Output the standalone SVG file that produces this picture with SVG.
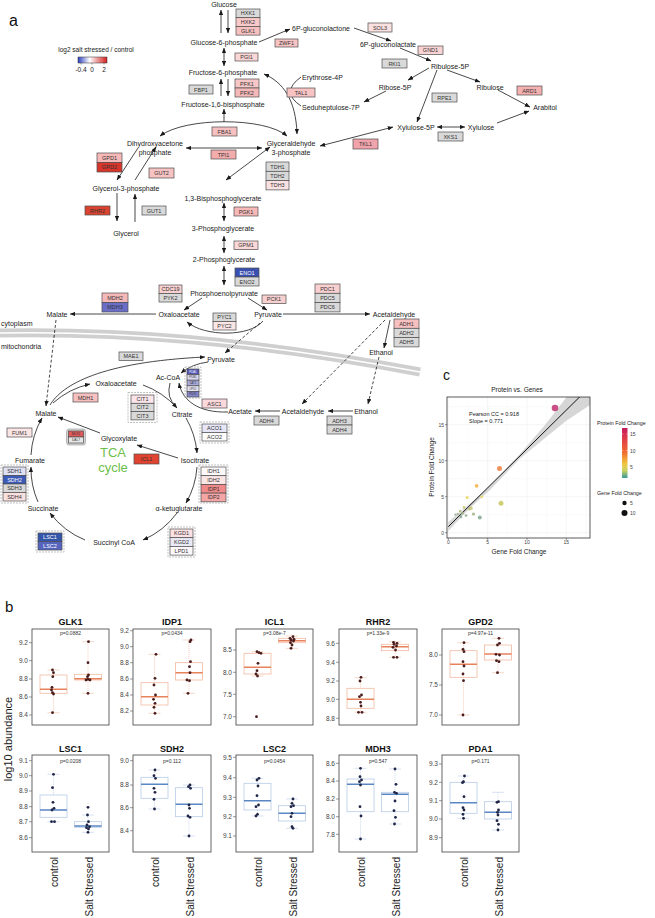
<svg xmlns="http://www.w3.org/2000/svg" width="655" height="918" viewBox="0 0 655 918">
<defs>
<style>
text{font-family:"Liberation Sans",Arial,Helvetica,sans-serif}
.m{font-size:7px;fill:#1a1a1a;text-anchor:middle}
.ms{font-size:7px;fill:#1a1a1a;text-anchor:start}
.gb rect{stroke:#4d4d4d;stroke-width:0.7}
.gb text{font-size:5.5px;fill:#333;text-anchor:middle}
.gb text.w{fill:#fff}
.gb text.xs{font-size:2.8px}
.gb text.x3{font-size:3.2px}
.grp{fill:none;stroke:#a6a6a6;stroke-width:0.9;stroke-dasharray:2 1}
.ln{fill:none;stroke:#1a1a1a;stroke-width:0.8}
.ds{stroke-dasharray:3 2}
.gy{fill:#d9d9d9}
.pt{font-size:9px;font-weight:bold;fill:#111;text-anchor:middle}
.pv{font-size:5px;fill:#333;text-anchor:middle}
.tk{font-size:6.5px;fill:#444;text-anchor:end}
.tl{stroke:#555;stroke-width:0.6}
.fr{fill:none;stroke:#555;stroke-width:0.9}
.xl{font-size:10px;fill:#222;text-anchor:end}
.b1 .bx{fill:none;stroke:#f2b9a0;stroke-width:0.8}
.b1 .md{stroke:#e8825a;stroke-width:1.4}
.b1 .wk{stroke:#f2b9a0;stroke-width:0.7;stroke-dasharray:1 1}
.b1 .cp{stroke:#f2c8b5;stroke-width:0.7}
.b1 circle{fill:#4a1c1c;r:1.4px}
.b2 .bx{fill:none;stroke:#b7cbe6;stroke-width:0.8}
.b2 .md{stroke:#5b86c4;stroke-width:1.4}
.b2 .wk{stroke:#b7cbe6;stroke-width:0.7;stroke-dasharray:1 1}
.b2 .cp{stroke:#c8d6ec;stroke-width:0.7}
.b2 circle{fill:#1e2547;r:1.4px}
.ct{font-size:5px;fill:#444}
.cg{stroke:#ececec;stroke-width:0.5}
.cg2{stroke:#f5f5f5;stroke-width:0.4}
</style>
<marker id="ah" viewBox="0 0 10 8" refX="9.5" refY="4" markerWidth="5.5" markerHeight="4.4" orient="auto-start-reverse" markerUnits="userSpaceOnUse"><path d="M0,0 L10,4 L0,8 z" fill="#1a1a1a"/></marker>
<linearGradient id="lg" x1="0" y1="0" x2="1" y2="0"><stop offset="0" stop-color="#2b3fbf"/><stop offset="0.4" stop-color="#ffffff"/><stop offset="1" stop-color="#d42020"/></linearGradient>
<linearGradient id="cb" x1="0" y1="0" x2="0" y2="1"><stop offset="0" stop-color="#c21b5e"/><stop offset="0.14" stop-color="#d93050"/><stop offset="0.48" stop-color="#f26a30"/><stop offset="0.72" stop-color="#f0c840"/><stop offset="0.85" stop-color="#c8d060"/><stop offset="1" stop-color="#3a9a9a"/></linearGradient>
<clipPath id="pc"><rect x="447" y="397" width="143" height="141"/></clipPath>
</defs>
<rect width="655" height="918" fill="#fff"/>

<text x="9" y="26" font-size="16" fill="#111">a</text>
<g id="legend">
<text x="96" y="52" font-size="6.5" fill="#222" text-anchor="middle">log2 salt stressed / control</text>
<rect x="78" y="57" width="29" height="6" fill="url(#lg)" stroke="#333" stroke-width="0.5"/>
<path d="M81,63v1.5M92,63v1.5M104,63v1.5" stroke="#333" stroke-width="0.5"/>
<text x="81" y="72" font-size="6.5" fill="#222" text-anchor="middle">-0.4</text>
<text x="92" y="72" font-size="6.5" fill="#222" text-anchor="middle">0</text>
<text x="104" y="72" font-size="6.5" fill="#222" text-anchor="middle">2</text>
</g>

<g id="membrane">
<path d="M0,333 C120,331 250,340 420,372" fill="none" stroke="#cfcfcf" stroke-width="9"/>
<path d="M0,333 C120,331 250,340 420,372" fill="none" stroke="#fff" stroke-width="1.5"/>
<text x="1" y="325.5" class="ms">cytoplasm</text>
<text x="1" y="349" class="ms">mitochondria</text>
</g>

<g id="connectors">
<path class="ln" d="M221,33V10" marker-end="url(#ah)"/>
<path class="ln" d="M228,10V33" marker-end="url(#ah)"/>
<path class="ln" d="M259,42L290,29" marker-end="url(#ah)"/>
<path class="ln" d="M224,48V66" marker-start="url(#ah)" marker-end="url(#ah)"/>
<path class="ln" d="M221,96V79" marker-end="url(#ah)"/>
<path class="ln" d="M228,79V96" marker-end="url(#ah)"/>
<path class="ln" d="M224,122V109" marker-end="url(#ah)"/>
<path class="ln" d="M160,136 C185,117 265,117 287,136" marker-start="url(#ah)" marker-end="url(#ah)"/>
<path class="ln" d="M264,74 C283,82 296,100 297,134" marker-start="url(#ah)" marker-end="url(#ah)"/>
<path class="ln" d="M301,77 Q280,92 301,106"/>
<path class="ln" d="M354,28L391,41" marker-end="url(#ah)"/>
<path class="ln" d="M400,48L431,61" marker-end="url(#ah)"/>
<path class="ln" d="M429,68L408,80" marker-end="url(#ah)"/>
<path class="ln" d="M386,91L364,102" marker-end="url(#ah)"/>
<path class="ln" d="M437,70L417,122" marker-end="url(#ah)"/>
<path class="ln" d="M447,70L480,82" marker-end="url(#ah)"/>
<path class="ln" d="M498,90L530,107" marker-end="url(#ah)"/>
<path class="ln" d="M497,123L529,111" marker-end="url(#ah)"/>
<path class="ln" d="M437,127H465" marker-start="url(#ah)" marker-end="url(#ah)"/>
<path class="ln" d="M393,127L320,146" marker-start="url(#ah)" marker-end="url(#ah)"/>
<path class="ln" d="M186,148H262" marker-start="url(#ah)" marker-end="url(#ah)"/>
<path class="ln" d="M270,147L226,180" marker-start="url(#ah)" marker-end="url(#ah)"/>
<path class="ln" d="M138,148L117,180" marker-end="url(#ah)"/>
<path class="ln" d="M135,180L156,147" marker-end="url(#ah)"/>
<path class="ln" d="M117,193V221" marker-end="url(#ah)"/>
<path class="ln" d="M135,222V194" marker-end="url(#ah)"/>
<path class="ln" d="M224,203V221" marker-start="url(#ah)" marker-end="url(#ah)"/>
<path class="ln" d="M224,236V253" marker-start="url(#ah)" marker-end="url(#ah)"/>
<path class="ln" d="M224,266V285" marker-start="url(#ah)" marker-end="url(#ah)"/>
<path class="ln" d="M202,298L184,310" marker-end="url(#ah)"/>
<path class="ln" d="M248,298L267,310" marker-end="url(#ah)"/>
<path class="ln" d="M263,321 C250,337 205,337 187,322" marker-end="url(#ah)"/>
<path class="ln" d="M156,314H70" marker-end="url(#ah)"/>
<path class="ln" d="M283,314H370" marker-end="url(#ah)"/>
<path class="ln" d="M390,320L384,348" marker-end="url(#ah)"/>
<path class="ln ds" d="M260,323L225,353" marker-end="url(#ah)"/>
<path class="ln ds" d="M56,320L46,406" marker-end="url(#ah)"/>
<path class="ln ds" d="M385,320L302,404" marker-end="url(#ah)"/>
<path class="ln ds" d="M379,357L368,404" marker-end="url(#ah)"/>
<path class="ln" d="M50,405 C62,385 100,362 205,357" marker-end="url(#ah)"/>
<path class="ln" d="M208,362 Q192,364 181,373" marker-end="url(#ah)"/>
<path class="ln" d="M53,403 A83,83 0 0 1 90,384" marker-end="url(#ah)"/>
<path class="ln" d="M143,385 A83,83 0 0 1 177,408" marker-end="url(#ah)"/>
<path class="ln" d="M186,418 A83,83 0 0 1 197,453" marker-end="url(#ah)"/>
<path class="ln" d="M197,467 A83,83 0 0 1 186,503" marker-end="url(#ah)"/>
<path class="ln" d="M177,513 A83,83 0 0 1 143,540" marker-end="url(#ah)"/>
<path class="ln" d="M85,540 A83,83 0 0 1 50,513" marker-end="url(#ah)"/>
<path class="ln" d="M38,502 A83,83 0 0 1 31,467" marker-end="url(#ah)"/>
<path class="ln" d="M31,455 A83,83 0 0 1 42,418" marker-end="url(#ah)"/>
<path class="ln" d="M178,458L137,445" marker-end="url(#ah)"/>
<path class="ln" d="M100,433L58,417" marker-end="url(#ah)"/>
<path class="ln" d="M170,383 Q166,398 176,406"/>
<path class="ln" d="M228,412 C198,413 182,400 179,383" marker-end="url(#ah)"/>
<path class="ln" d="M280,411H255" marker-end="url(#ah)"/>
<path class="ln" d="M353,411H328" marker-end="url(#ah)"/>
</g>

<g id="metabolites">
<text class="m" x="224" y="6.5">Glucose</text>
<text class="m" x="224" y="44.5">Glucose-6-phosphate</text>
<text class="ms" x="292" y="31">6P-gluconolactone</text>
<text class="m" x="388" y="47">6P-gluconolactate</text>
<text class="m" x="450" y="68.5">Ribulose-5P</text>
<text class="m" x="395" y="89.5">Ribose-5P</text>
<text class="ms" x="302" y="79.5">Erythrose-4P</text>
<text class="ms" x="302" y="109.5">Seduheptulose-7P</text>
<text class="m" x="490" y="89.5">Ribulose</text>
<text class="m" x="545" y="109.5">Arabitol</text>
<text class="m" x="223" y="74.5">Fructose-6-phosphate</text>
<text class="m" x="223" y="106.5">Fructose-1,6-bisphosphate</text>
<text class="m" x="416" y="129.5">Xylulose-5P</text>
<text class="m" x="481" y="129.5">Xylulose</text>
<text class="m" x="155" y="145.5">Dihydroxyacetone</text>
<text class="m" x="155" y="154.5">phosphate</text>
<text class="m" x="291" y="145.5">Glyceraldehyde</text>
<text class="m" x="291" y="154.5">3-phosphate</text>
<text class="m" x="126" y="190.5">Glycerol-3-phosphate</text>
<text class="m" x="223" y="200.5">1,3-Bisphosphoglycerate</text>
<text class="m" x="126" y="235.5">Glycerol</text>
<text class="m" x="223" y="230.5">3-Phosphoglycerate</text>
<text class="m" x="224" y="261.5">2-Phosphoglycerate</text>
<text class="m" x="224" y="295.5">Phosphoenolpyruvate</text>
<text class="m" x="179" y="316.5">Oxaloacetate</text>
<text class="m" x="268" y="316.5">Pyruvate</text>
<text class="m" x="57" y="316.5">Malate</text>
<text class="m" x="394" y="316.5">Acetaldehyde</text>
<text class="m" x="381" y="354.5">Ethanol</text>
<text class="m" x="221" y="361.5">Pyruvate</text>
<text class="m" x="168" y="379.5">Ac-CoA</text>
<text class="m" x="116" y="385.5">Oxaloacetate</text>
<text class="m" x="182" y="416.5">Citrate</text>
<text class="m" x="46" y="415.5">Malate</text>
<text class="m" x="240" y="413.5">Acetate</text>
<text class="m" x="303" y="413.5">Acetaldehyde</text>
<text class="m" x="366" y="413.5">Ethanol</text>
<text class="m" x="119" y="440.5">Glycoxylate</text>
<text class="m" x="195" y="462.5">Isocitrate</text>
<text class="m" x="30" y="462.5">Fumarate</text>
<text class="m" x="179" y="510.5">α-ketuglutarate</text>
<text class="m" x="43" y="510.5">Succinate</text>
<text class="m" x="114" y="544.5">Succinyl CoA</text>
<text x="113" y="457" font-size="13" fill="#6cc04a" text-anchor="middle">TCA</text>
<text x="113" y="472" font-size="13" fill="#6cc04a" text-anchor="middle">cycle</text>
</g>

<g id="genes" class="gb">
<g id="HXK1"><rect x="236" y="9" width="24" height="8.7" class="gy"/><text x="248" y="15.3">HXK1</text></g>
<g id="HXK2"><rect x="236" y="17.7" width="24" height="8.7" fill="#f9c9c9"/><text x="248" y="24">HXK2</text></g>
<g id="GLK1"><rect x="236" y="26.4" width="24" height="8.7" fill="#f7c0c0"/><text x="248" y="32.7">GLK1</text></g>
<g id="ZWF1"><rect x="275" y="39" width="23" height="8" fill="#f7c3c3"/><text x="286.5" y="45">ZWF1</text></g>
<g id="SOL3"><rect x="368" y="23" width="24" height="9" fill="#fbe0e0"/><text x="380" y="29.5">SOL3</text></g>
<g id="GND1"><rect x="418" y="46" width="25" height="8.5" fill="#f9d3d3"/><text x="430.5" y="52.2">GND1</text></g>
<g id="RKI1"><rect x="382" y="59" width="25" height="9" class="gy"/><text x="394.5" y="65.5">RKI1</text></g>
<g id="PGI1"><rect x="235" y="53" width="23" height="8" fill="#fbd6d6"/><text x="246.5" y="59">PGI1</text></g>
<g id="PFK1"><rect x="235" y="79" width="24" height="9" fill="#f7c6c6"/><text x="247" y="85.5">PFK1</text></g>
<g id="PFK2"><rect x="235" y="88" width="24" height="9" fill="#f5b8b8"/><text x="247" y="94.5">PFK2</text></g>
<g id="FBP1"><rect x="189" y="85" width="24" height="9" class="gy"/><text x="201" y="91.5">FBP1</text></g>
<g id="TAL1"><rect x="287" y="88" width="28" height="9" fill="#f7c3c3"/><text x="301" y="94.5">TAL1</text></g>
<g id="RPE1"><rect x="432" y="93" width="25" height="9" class="gy"/><text x="444.5" y="99.5">RPE1</text></g>
<g id="ARD1"><rect x="517" y="86" width="25" height="9" fill="#f5b0b0"/><text x="529.5" y="92.5">ARD1</text></g>
<g id="FBA1"><rect x="212" y="127" width="25" height="9" fill="#f7c0c0"/><text x="224.5" y="133.5">FBA1</text></g>
<g id="TPI1"><rect x="211" y="150" width="25" height="9" fill="#f3acac"/><text x="223.5" y="156.5">TPI1</text></g>
<g id="XKS1"><rect x="438" y="132" width="25" height="9" class="gy"/><text x="450.5" y="138.5">XKS1</text></g>
<g id="TKL1"><rect x="353" y="139" width="25" height="10" fill="#f0a3aa"/><text x="365.5" y="146">TKL1</text></g>
<g id="TDH1"><rect x="266" y="162" width="23" height="9.3" class="gy"/><text x="277.5" y="168.6">TDH1</text></g>
<g id="TDH2"><rect x="266" y="171.3" width="23" height="9.3" class="gy"/><text x="277.5" y="178">TDH2</text></g>
<g id="TDH3"><rect x="266" y="180.6" width="23" height="9.3" fill="#fbe2e2"/><text x="277.5" y="187.2">TDH3</text></g>
<g id="GPD1"><rect x="97" y="153" width="25" height="9.5" fill="#f7b8b8"/><text x="109.5" y="159.7">GPD1</text></g>
<g id="GPD2"><rect x="97" y="162.5" width="25" height="9.5" fill="#d5352b"/><text x="109.5" y="169.2">GPD2</text></g>
<g id="GUT2"><rect x="149" y="168" width="25" height="10" fill="#f7c2c2"/><text x="161.5" y="175">GUT2</text></g>
<g id="RHR2"><rect x="85" y="206" width="25" height="9" fill="#d9432f"/><text x="97.5" y="212.5">RHR2</text></g>
<g id="GUT1"><rect x="142" y="206" width="24" height="9" class="gy"/><text x="154" y="212.5">GUT1</text></g>
<g id="PGK1"><rect x="234" y="207" width="24" height="9" fill="#f7b8b8"/><text x="246" y="213.5">PGK1</text></g>
<g id="GPM1"><rect x="234" y="241" width="24" height="8.5" fill="#fbd8d8"/><text x="246" y="247.2">GPM1</text></g>
<g id="ENO1"><rect x="235" y="268" width="24" height="9" fill="#3a50b0"/><text class="w" x="247" y="274.5">ENO1</text></g>
<g id="ENO2"><rect x="235" y="277" width="24" height="9" class="gy"/><text x="247" y="283.5">ENO2</text></g>
<g id="CDC19"><rect x="159" y="285" width="23" height="8.5" fill="#f9d0d0"/><text x="170.5" y="291.2">CDC19</text></g>
<g id="PYK2"><rect x="159" y="293.5" width="23" height="8.5" class="gy"/><text x="170.5" y="299.7">PYK2</text></g>
<g id="PCK1"><rect x="262" y="295" width="24" height="8.5" fill="#f9d0d0"/><text x="274" y="301.2">PCK1</text></g>
<g id="PDC1"><rect x="315" y="284" width="25" height="9.3" fill="#f9d0d0"/><text x="327.5" y="290.6">PDC1</text></g>
<g id="PDC5"><rect x="315" y="293.3" width="25" height="9.3" class="gy"/><text x="327.5" y="300">PDC5</text></g>
<g id="PDC6"><rect x="315" y="302.6" width="25" height="9.3" class="gy"/><text x="327.5" y="309.2">PDC6</text></g>
<g id="MDH2"><rect x="102" y="293" width="26" height="9.5" fill="#f5b8b8"/><text x="115" y="299.7">MDH2</text></g>
<g id="MDH3"><rect x="102" y="302.5" width="26" height="9.5" fill="#6a6ec6"/><text x="115" y="309.2" fill="#1a1a40">MDH3</text></g>
<g id="PYC1"><rect x="213" y="313" width="23" height="8.5" class="gy"/><text x="224.5" y="319.2">PYC1</text></g>
<g id="PYC2"><rect x="213" y="321.5" width="23" height="8.5" fill="#fbe6e6"/><text x="224.5" y="327.7">PYC2</text></g>
<g id="ADH1"><rect x="394" y="319" width="25" height="9.3" fill="#f7c0c0"/><text x="406.5" y="325.6">ADH1</text></g>
<g id="ADH2"><rect x="394" y="328.3" width="25" height="9.3" class="gy"/><text x="406.5" y="335">ADH2</text></g>
<g id="ADH5"><rect x="394" y="337.6" width="25" height="9.3" class="gy"/><text x="406.5" y="344.2">ADH5</text></g>
<g id="MAE1"><rect x="119" y="352" width="24" height="8.5" class="gy"/><text x="131" y="358.2">MAE1</text></g>
<g id="MDH1"><rect x="73" y="393" width="25" height="9" fill="#f7c0c0"/><text x="85.5" y="399.5">MDH1</text></g>
<g id="CIT"><rect x="128" y="392.5" width="29" height="30" class="grp" style="stroke:#a6a6a6"/>
<rect x="131" y="395" width="23" height="8.3" fill="#fbe4ea"/><text x="142.5" y="401.1">CIT1</text>
<rect x="131" y="403.3" width="23" height="8.3" class="gy"/><text x="142.5" y="409.4">CIT2</text>
<rect x="131" y="411.6" width="23" height="8.3" class="gy"/><text x="142.5" y="417.7">CIT3</text></g>
<g id="PDH"><rect x="185" y="367" width="16" height="31" class="grp" style="stroke:#a6a6a6"/>
<rect x="187" y="369" width="12" height="5.6" fill="#5557b5"/><text class="xs w" x="193" y="372.8">PDA1</text>
<rect x="187" y="374.6" width="12" height="5.6" fill="#d8d8ee"/><text class="xs" x="193" y="378.4">PDB1</text>
<rect x="187" y="380.2" width="12" height="5.6" fill="#a9a9dc"/><text class="xs" x="193" y="384">LAT1</text>
<rect x="187" y="385.8" width="12" height="5.6" fill="#e4e4f2"/><text class="xs" x="193" y="389.6">LPD1</text>
<rect x="187" y="391.4" width="12" height="5.6" fill="#8585cc"/><text class="xs" x="193" y="395.2">PDX1</text></g>
<g id="ASC1"><rect x="202" y="399" width="25" height="9" fill="#fbd8dc"/><text x="214.5" y="405.5">ASC1</text></g>
<g id="ADH4a"><rect x="254" y="416" width="25" height="9" class="gy"/><text x="266.5" y="422.5">ADH4</text></g>
<g id="ADH3"><rect x="327" y="416" width="25" height="9" class="gy"/><text x="339.5" y="422.5">ADH3</text></g>
<g id="ADH4b"><rect x="327" y="425" width="25" height="9" class="gy"/><text x="339.5" y="431.5">ADH4</text></g>
<g id="ACO"><rect x="200" y="422" width="29" height="21" class="grp" style="stroke:#a6a6a6"/>
<rect x="202" y="424" width="25" height="8.5" fill="#e6e6f6"/><text x="214.5" y="430.2">ACO1</text>
<rect x="202" y="432.5" width="25" height="8.5" fill="#fdfdfd"/><text x="214.5" y="438.7">ACO2</text></g>
<g id="MLS"><rect x="66.5" y="429" width="19" height="16" rx="2.5" fill="#d4d4d4" style="stroke:#a0a0a0"/>
<rect x="68.5" y="431" width="15" height="6" fill="#e05a5a"/><text class="x3" x="76" y="435.1">MLS1</text>
<rect x="68.5" y="437" width="15" height="6" fill="#e8e8e8"/><text class="x3" x="76" y="441.1">DAL7</text></g>
<g id="FUM1"><rect x="7" y="428" width="25" height="9" fill="#fbe5e5"/><text x="19.5" y="434.5">FUM1</text></g>
<g id="ICL1"><rect x="134" y="454" width="25" height="10" fill="#e0432f"/><text x="146.5" y="461">ICL1</text></g>
<g id="IDH"><rect x="199" y="465" width="29" height="38" class="grp" style="stroke:#a6a6a6"/>
<rect x="201" y="467" width="25" height="8.7" fill="#fdf9fb"/><text x="213.5" y="473.3">IDH1</text>
<rect x="201" y="475.7" width="25" height="8.7" fill="#fbe6e6"/><text x="213.5" y="482">IDH2</text>
<rect x="201" y="484.4" width="25" height="8.7" fill="#f08a8a"/><text x="213.5" y="490.7">IDP1</text>
<rect x="201" y="493.1" width="25" height="8.7" fill="#f4a5a5"/><text x="213.5" y="499.4">IDP2</text></g>
<g id="SDH"><rect x="1" y="465" width="27" height="38" class="grp" style="stroke:#a6a6a6"/>
<rect x="3" y="467" width="23" height="8.5" fill="#e0e0f4"/><text x="14.5" y="473.2">SDH1</text>
<rect x="3" y="475.5" width="23" height="8.5" fill="#3c5ab8"/><text class="w" x="14.5" y="481.7">SDH2</text>
<rect x="3" y="484" width="23" height="8.5" class="gy"/><text x="14.5" y="490.2">SDH3</text>
<rect x="3" y="492.5" width="23" height="8.5" fill="#fbe0e0"/><text x="14.5" y="498.7">SDH4</text></g>
<g id="KGD"><rect x="168" y="527" width="27" height="30" class="grp" style="stroke:#a6a6a6"/>
<rect x="170" y="529" width="23" height="8.7" fill="#fbe0e4"/><text x="181.5" y="535.3">KGD1</text>
<rect x="170" y="537.7" width="23" height="8.7" fill="#eae9f6"/><text x="181.5" y="544">KGD2</text>
<rect x="170" y="546.4" width="23" height="8.7" fill="#fdf8fb"/><text x="181.5" y="552.7">LPD1</text></g>
<g id="LSC"><rect x="36" y="531" width="28" height="21" class="grp" style="stroke:#a6a6a6"/>
<rect x="38" y="533" width="24" height="8.5" fill="#3355aa"/><text class="w" x="50" y="539.2">LSC1</text>
<rect x="38" y="541.5" width="24" height="8.5" fill="#5565be"/><text class="w" x="50" y="547.7">LSC2</text></g>
</g>

<g id="panel-c">
<text x="443" y="380" font-size="14" fill="#111">c</text>
<text x="517" y="392" font-size="6.5" fill="#222" text-anchor="middle">Protein vs. Genes</text>
<rect x="447" y="397" width="143" height="141" fill="#fff"/>
<path class="cg2" d="M468,397V538M507.3,397V538M546.7,397V538M586,397V538M447,514.7H590M447,478.7H590M447,442.7H590M447,406.7H590"/>
<path class="cg" d="M448.3,397V538M487.7,397V538M527,397V538M566.3,397V538M447,532.7H590M447,496.7H590M447,460.7H590M447,424.7H590"/>
<g clip-path="url(#pc)">
<polygon points="448.3,522 470,503.5 490,486 520,454 545,425 566.7,397 590,372 590,405 566,421 545,438 520,458.5 490,490 470,508 448.3,531" fill="#cfcfcf" opacity="0.85"/>
<path d="M448.3,526.7 L590,386.7" stroke="#111" stroke-width="1"/>
</g>
<g opacity="0.85">
<circle cx="555" cy="408" r="3.3" fill="#c03070"/>
<circle cx="499.5" cy="468.6" r="2.5" fill="#f08040"/>
<circle cx="476.6" cy="485.9" r="1.8" fill="#f5b040"/>
<circle cx="467.2" cy="497.4" r="1.5" fill="#e8d858"/>
<circle cx="481.7" cy="496.7" r="1.5" fill="#ece070"/>
<circle cx="501" cy="503.2" r="2.5" fill="#c8c860"/>
<circle cx="479.8" cy="517.6" r="2" fill="#80a890"/>
<circle cx="473.5" cy="514" r="1.6" fill="#a0b080"/>
<circle cx="471.1" cy="508.2" r="1.6" fill="#c8c868"/>
<circle cx="469.5" cy="509" r="1.5" fill="#c0c070"/>
<circle cx="464" cy="507.5" r="1.4" fill="#c8c870"/>
<circle cx="460.1" cy="511.1" r="1.3" fill="#a8b878"/>
<circle cx="460.9" cy="516.9" r="1.3" fill="#80a890"/>
<circle cx="457.7" cy="514" r="1.2" fill="#98b088"/>
<circle cx="455.4" cy="514.7" r="1.1" fill="#90a890"/>
<circle cx="462.5" cy="513.3" r="1.3" fill="#a0b480"/>
<circle cx="466" cy="515.5" r="1.3" fill="#88aa88"/>
</g>
<rect x="447" y="397" width="143" height="141" fill="none" stroke="#333" stroke-width="0.8"/>
<path d="M445,532.7h2M445,496.7h2M445,460.7h2M445,424.7h2M448.3,538v2M487.7,538v2M527,538v2M566.3,538v2" stroke="#333" stroke-width="0.5"/>
<text class="ct" x="444" y="534.5" text-anchor="end">0</text>
<text class="ct" x="444" y="498.5" text-anchor="end">5</text>
<text class="ct" x="444" y="462.5" text-anchor="end">10</text>
<text class="ct" x="444" y="426.5" text-anchor="end">15</text>
<text class="ct" x="448.3" y="544" text-anchor="middle">0</text>
<text class="ct" x="487.7" y="544" text-anchor="middle">5</text>
<text class="ct" x="527" y="544" text-anchor="middle">10</text>
<text class="ct" x="566.3" y="544" text-anchor="middle">15</text>
<text x="519" y="554" font-size="6.5" fill="#222" text-anchor="middle">Gene Fold Change</text>
<text transform="translate(434,467) rotate(-90)" font-size="6.5" fill="#222" text-anchor="middle">Protein Fold Change</text>
<text x="469" y="416" font-size="5.5" fill="#222">Pearson CC = 0.918</text>
<text x="469" y="423" font-size="5.5" fill="#222">Slope = 0.771</text>
<text x="597" y="425" font-size="5.3" fill="#222">Protein Fold Change</text>
<rect x="622" y="428" width="5.5" height="50" fill="url(#cb)"/>
<path d="M622,434h1.2M626.3,434h1.2M622,450.5h1.2M626.3,450.5h1.2M622,467h1.2M626.3,467h1.2" stroke="#fff" stroke-width="0.5"/>
<text class="ct" x="630" y="436" font-size="4.5">15</text>
<text class="ct" x="630" y="452.5" font-size="4.5">10</text>
<text class="ct" x="630" y="469" font-size="4.5">5</text>
<text x="597" y="495" font-size="5.3" fill="#222">Gene Fold Change</text>
<circle cx="624.5" cy="503" r="2.2" fill="#111"/>
<circle cx="624.5" cy="513" r="3" fill="#111"/>
<text class="ct" x="630" y="504.6" font-size="4.5">5</text>
<text class="ct" x="630" y="514.6" font-size="4.5">10</text>
</g>

<g id="panel-b">
<text x="5" y="612" font-size="15" fill="#111">b</text>
<text transform="translate(12,739) rotate(-90)" font-size="11" fill="#222" text-anchor="middle">log10 abundance</text>

<g id="p-GLK1" class="b1">
<text class="pt" x="70.5" y="625">GLK1</text><text class="pv" x="70.5" y="635">p=0.0882</text>
<path class="tl" d="M29,642.7h3M29,660.7h3M29,679h3M29,697h3M29,715h3"/>
<text class="tk" x="28" y="645">9.2</text><text class="tk" x="28" y="663">9.0</text><text class="tk" x="28" y="681.3">8.8</text><text class="tk" x="28" y="699.3">8.6</text><text class="tk" x="28" y="717.3">8.4</text>
<path class="wk" d="M53.5,670V675M53.5,693.3V712.7M88,641.7V674.3M88,680V693.3"/>
<path class="cp" d="M47.5,670h12M47.5,712.7h12M82,641.7h12M82,693.3h12"/>
<rect class="bx" x="40" y="675" width="27" height="18.3"/><rect class="bx" x="74.5" y="674.3" width="27" height="5.7"/>
<path class="md" d="M40,689.3h27M74.5,678.7h27"/>
<circle cx="52.5" cy="670"/><circle cx="53.5" cy="672.7"/><circle cx="52.8" cy="676.7"/><circle cx="52" cy="687.3"/><circle cx="51.5" cy="690"/><circle cx="52.5" cy="692.7"/><circle cx="53.5" cy="694"/><circle cx="52.5" cy="712.7"/>
<circle cx="88.5" cy="641.7"/><circle cx="88" cy="662.7"/><circle cx="88.5" cy="675"/><circle cx="87.5" cy="676.7"/><circle cx="88" cy="679.3"/><circle cx="86" cy="680"/><circle cx="90" cy="680"/><circle cx="88" cy="693.3"/>
<rect class="fr" x="32" y="629" width="77" height="96"/>
</g>
<g id="p-IDP1" class="b1">
<text class="pt" x="172" y="625">IDP1</text><text class="pv" x="172" y="635">p=0.0434</text>
<path class="tl" d="M130,630.7h3M130,646.7h3M130,662.7h3M130,679h3M130,695h3M130,711h3"/>
<text class="tk" x="129" y="633">9.2</text><text class="tk" x="129" y="649">9.0</text><text class="tk" x="129" y="665">8.8</text><text class="tk" x="129" y="681.3">8.6</text><text class="tk" x="129" y="697.3">8.4</text><text class="tk" x="129" y="713.3">8.2</text>
<path class="wk" d="M154.5,654.3V682.7M154.5,705V713.3M189,640V662.7M189,680V693.3"/>
<path class="cp" d="M148.5,654.3h12M148.5,713.3h12M183,640h12M183,693.3h12"/>
<rect class="bx" x="141" y="682.7" width="27" height="22.3"/><rect class="bx" x="175.5" y="662.7" width="27" height="17.3"/>
<path class="md" d="M141,696.7h27M175.5,672.7h27"/>
<circle cx="156" cy="654.3"/><circle cx="155" cy="678.3"/><circle cx="154" cy="685"/><circle cx="155.5" cy="695"/><circle cx="153.5" cy="699.3"/><circle cx="155" cy="703.3"/><circle cx="154" cy="707.3"/><circle cx="155" cy="713.3"/>
<circle cx="191" cy="640"/><circle cx="190" cy="641.7"/><circle cx="190.5" cy="661.7"/><circle cx="189.5" cy="666.7"/><circle cx="190" cy="672.7"/><circle cx="187" cy="680"/><circle cx="189.5" cy="680.7"/><circle cx="188" cy="693.3"/>
<rect class="fr" x="133" y="629" width="78" height="96"/>
</g>
<g id="p-ICL1" class="b1">
<text class="pt" x="274.5" y="625">ICL1</text><text class="pv" x="274.5" y="635">p=3.08e-7</text>
<path class="tl" d="M233,650h3M233,672.3h3M233,694.3h3M233,716.7h3"/>
<text class="tk" x="232" y="652.3">8.5</text><text class="tk" x="232" y="674.6">8.0</text><text class="tk" x="232" y="696.6">7.5</text><text class="tk" x="232" y="719">7.0</text>
<path class="wk" d="M257.5,651.7V653.3M292,636V638.3M292,642.7V648.3"/>
<path class="cp" d="M251.5,651.7h12M251.5,676h12M286,636h12M286,648.3h12"/>
<rect class="bx" x="244" y="653.3" width="27" height="20.7"/><rect class="bx" x="278.5" y="638.3" width="27" height="4.4"/>
<path class="md" d="M244,667.3h27M278.5,640.7h27"/>
<circle cx="257" cy="651.7"/><circle cx="259" cy="652.7"/><circle cx="261" cy="653.3"/><circle cx="258" cy="663.3"/><circle cx="257" cy="670.7"/><circle cx="256" cy="674"/><circle cx="257.5" cy="676"/><circle cx="256.5" cy="716.7"/>
<circle cx="293" cy="636.7"/><circle cx="290" cy="638.3"/><circle cx="294" cy="639.3"/><circle cx="291" cy="640"/><circle cx="293.5" cy="641"/><circle cx="290.5" cy="642.7"/><circle cx="292" cy="645"/><circle cx="291" cy="648.3"/>
<rect class="fr" x="236" y="629" width="77" height="96"/>
</g>
<g id="p-RHR2" class="b1">
<text class="pt" x="378" y="625">RHR2</text><text class="pv" x="378" y="635">p=1.33e-9</text>
<path class="tl" d="M336,643.3h3M336,662.3h3M336,681h3M336,699.3h3M336,718.3h3"/>
<text class="tk" x="335" y="645.6">9.6</text><text class="tk" x="335" y="664.6">9.4</text><text class="tk" x="335" y="683.3">9.2</text><text class="tk" x="335" y="701.6">9.0</text><text class="tk" x="335" y="720.6">8.8</text>
<path class="wk" d="M360.5,677.7V688.3M360.5,708.3V712.3M395,641.7V644.3M395,650.7V657.3"/>
<path class="cp" d="M354.5,677.7h12M354.5,712.3h12M389,641.7h12M389,657.3h12"/>
<rect class="bx" x="347" y="688.3" width="27" height="20"/><rect class="bx" x="381.5" y="644.3" width="27" height="6.4"/>
<path class="md" d="M347,699.3h27M381.5,646.7h27"/>
<circle cx="361" cy="677.3"/><circle cx="360" cy="681"/><circle cx="361.5" cy="695"/><circle cx="359.5" cy="696.7"/><circle cx="360.5" cy="702.3"/><circle cx="361" cy="706"/><circle cx="358.5" cy="712.3"/><circle cx="362" cy="712.3"/>
<circle cx="393.5" cy="642.3"/><circle cx="397" cy="643.3"/><circle cx="394" cy="644.3"/><circle cx="396.5" cy="646"/><circle cx="393" cy="647.3"/><circle cx="395.5" cy="650"/><circle cx="393.5" cy="657.3"/><circle cx="397" cy="657.3"/>
<rect class="fr" x="339" y="629" width="78" height="96"/>
</g>
<g id="p-GPD2" class="b1">
<text class="pt" x="480.5" y="625">GPD2</text><text class="pv" x="480.5" y="635">p=4.97e-11</text>
<path class="tl" d="M439,655h3M439,685h3M439,715h3"/>
<text class="tk" x="438" y="657.3">8.0</text><text class="tk" x="438" y="687.3">7.5</text><text class="tk" x="438" y="717.3">7.0</text>
<path class="wk" d="M463.5,642.7V650.7M463.5,677.3V715M498,638.3V645M498,660V672.7"/>
<path class="cp" d="M457.5,642.7h12M457.5,715h12M492,638.3h12M492,672.7h12"/>
<rect class="bx" x="450" y="650.7" width="27" height="26.6"/><rect class="bx" x="484.5" y="645" width="27" height="15"/>
<path class="md" d="M450,664.3h27M484.5,654h27"/>
<circle cx="464" cy="642.7"/><circle cx="463" cy="649.3"/><circle cx="464" cy="651.7"/><circle cx="463" cy="661.7"/><circle cx="464" cy="666"/><circle cx="463" cy="674"/><circle cx="463.5" cy="680.7"/><circle cx="463" cy="715"/>
<circle cx="499" cy="638.3"/><circle cx="499.5" cy="643.3"/><circle cx="497.5" cy="645"/><circle cx="496" cy="654.3"/><circle cx="499.5" cy="655"/><circle cx="496.5" cy="660.7"/><circle cx="499" cy="661.7"/><circle cx="497.5" cy="672.7"/>
<rect class="fr" x="442" y="629" width="77" height="96"/>
</g>

<g id="p-LSC1" class="b2">
<text class="pt" x="70.5" y="752">LSC1</text><text class="pv" x="70.5" y="763">p=0.0208</text>
<path class="tl" d="M29,760.7h3M29,775.7h3M29,791h3M29,806.7h3M29,821.7h3M29,837.7h3"/>
<text class="tk" x="28" y="763">9.1</text><text class="tk" x="28" y="778">9.0</text><text class="tk" x="28" y="793.3">8.9</text><text class="tk" x="28" y="809">8.8</text><text class="tk" x="28" y="824">8.7</text><text class="tk" x="28" y="840">8.6</text>
<path class="wk" d="M53.5,774.3V795M88,815V821.7M88,827.3V832.3"/>
<path class="cp" d="M47.5,774.3h12M47.5,821.7h12M82,815h12M82,832.3h12"/>
<rect class="bx" x="40" y="795" width="27" height="22.3"/><rect class="bx" x="74.5" y="821.7" width="27" height="5.6"/>
<path class="md" d="M40,810h27M74.5,826h27"/>
<circle cx="53.5" cy="774.3"/><circle cx="52.5" cy="787.7"/><circle cx="53" cy="802.3"/><circle cx="54" cy="808.3"/><circle cx="52" cy="810"/><circle cx="51.5" cy="821.7"/><circle cx="54.5" cy="821.7"/>
<circle cx="88" cy="807.3"/><circle cx="87.5" cy="815"/><circle cx="88.5" cy="821.7"/><circle cx="87" cy="825"/><circle cx="89.5" cy="826.7"/><circle cx="86.5" cy="827.7"/><circle cx="88.5" cy="829"/><circle cx="88" cy="832.3"/>
<rect class="fr" x="32" y="755" width="77" height="97"/>
<text class="xl" transform="translate(58,857) rotate(-90)">control</text><text class="xl" transform="translate(93,857) rotate(-90)">Salt Stressed</text>
</g>
<g id="p-SDH2" class="b2">
<text class="pt" x="172" y="752">SDH2</text><text class="pv" x="172" y="763">p=0.112</text>
<path class="tl" d="M130,760.7h3M130,785h3M130,807.7h3M130,830.7h3"/>
<text class="tk" x="129" y="763">9.0</text><text class="tk" x="129" y="787.3">8.8</text><text class="tk" x="129" y="810">8.6</text><text class="tk" x="129" y="833">8.4</text>
<path class="wk" d="M154.5,770V777.3M154.5,798.3V809M189,785V787.7M189,816.7V836"/>
<path class="cp" d="M148.5,770h12M148.5,809h12M183,785h12M183,836h12"/>
<rect class="bx" x="141" y="777.3" width="27" height="21"/><rect class="bx" x="175.5" y="787.7" width="27" height="29"/>
<path class="md" d="M141,784.3h27M175.5,804.3h27"/>
<circle cx="155" cy="770"/><circle cx="154" cy="775.7"/><circle cx="155.5" cy="778.3"/><circle cx="154" cy="788.3"/><circle cx="155" cy="792.3"/><circle cx="154" cy="799.3"/><circle cx="154.5" cy="809"/>
<circle cx="190" cy="785"/><circle cx="188.5" cy="786.7"/><circle cx="190.5" cy="788.3"/><circle cx="189" cy="805"/><circle cx="189.5" cy="808.3"/><circle cx="188" cy="816"/><circle cx="190" cy="817.3"/><circle cx="189" cy="836"/>
<rect class="fr" x="133" y="755" width="78" height="97"/>
<text class="xl" transform="translate(159,857) rotate(-90)">control</text><text class="xl" transform="translate(194,857) rotate(-90)">Salt Stressed</text>
</g>
<g id="p-LSC2" class="b2">
<text class="pt" x="274.5" y="752">LSC2</text><text class="pv" x="274.5" y="763">p=0.0454</text>
<path class="tl" d="M233,757.3h3M233,777.7h3M233,797.3h3M233,816.7h3M233,836h3"/>
<text class="tk" x="232" y="759.6">9.5</text><text class="tk" x="232" y="780">9.4</text><text class="tk" x="232" y="799.6">9.3</text><text class="tk" x="232" y="819">9.2</text><text class="tk" x="232" y="838.3">9.1</text>
<path class="wk" d="M257.5,778.3V783.3M257.5,810V816M292,799V805.7M292,821V828.3"/>
<path class="cp" d="M251.5,778.3h12M251.5,816h12M286,799h12M286,828.3h12"/>
<rect class="bx" x="244" y="783.3" width="27" height="26.7"/><rect class="bx" x="278.5" y="805.7" width="27" height="15.3"/>
<path class="md" d="M244,800.7h27M278.5,813.3h27"/>
<circle cx="259" cy="778.3"/><circle cx="257" cy="780"/><circle cx="258" cy="786"/><circle cx="257" cy="795.7"/><circle cx="258.5" cy="805"/><circle cx="256" cy="806.7"/><circle cx="257.5" cy="814.3"/><circle cx="256" cy="816"/>
<circle cx="293" cy="799"/><circle cx="292" cy="803.3"/><circle cx="293.5" cy="805.7"/><circle cx="291" cy="806.7"/><circle cx="292" cy="813.3"/><circle cx="291" cy="816.7"/><circle cx="292" cy="826.7"/><circle cx="293" cy="828.3"/>
<rect class="fr" x="236" y="755" width="77" height="97"/>
<text class="xl" transform="translate(262,857) rotate(-90)">control</text><text class="xl" transform="translate(297,857) rotate(-90)">Salt Stressed</text>
</g>
<g id="p-MDH3" class="b2">
<text class="pt" x="378" y="752">MDH3</text><text class="pv" x="378" y="763">p=0.547</text>
<path class="tl" d="M336,763.3h3M336,781h3M336,799h3M336,816.7h3M336,834.3h3"/>
<text class="tk" x="335" y="765.6">8.6</text><text class="tk" x="335" y="783.3">8.4</text><text class="tk" x="335" y="801.3">8.2</text><text class="tk" x="335" y="819">8.0</text><text class="tk" x="335" y="836.6">7.8</text>
<path class="wk" d="M360.5,768.3V779M360.5,811.7V839M395,769V792.3M395,811.7V824"/>
<path class="cp" d="M354.5,768.3h12M354.5,839h12M389,769h12M389,824h12"/>
<rect class="bx" x="347" y="779" width="27" height="32.7"/><rect class="bx" x="381.5" y="792.3" width="27" height="19.4"/>
<path class="md" d="M347,784.3h27M381.5,794.3h27"/>
<circle cx="360.5" cy="768.3"/><circle cx="360" cy="776.7"/><circle cx="361.5" cy="780"/><circle cx="359.5" cy="781.7"/><circle cx="360.5" cy="785"/><circle cx="360" cy="806.7"/><circle cx="361" cy="816"/><circle cx="360.5" cy="839"/>
<circle cx="395" cy="769"/><circle cx="396" cy="784.3"/><circle cx="394.5" cy="792.3"/><circle cx="396.5" cy="793.3"/><circle cx="395" cy="801"/><circle cx="394" cy="810.7"/><circle cx="395.5" cy="817.3"/><circle cx="394.5" cy="824"/>
<rect class="fr" x="339" y="755" width="78" height="97"/>
<text class="xl" transform="translate(365,857) rotate(-90)">control</text><text class="xl" transform="translate(400,857) rotate(-90)">Salt Stressed</text>
</g>
<g id="p-PDA1" class="b2">
<text class="pt" x="480.5" y="752">PDA1</text><text class="pv" x="480.5" y="763">p=0.171</text>
<path class="tl" d="M439,764h3M439,782.3h3M439,800.7h3M439,819h3M439,837.7h3"/>
<text class="tk" x="438" y="766.3">9.3</text><text class="tk" x="438" y="784.6">9.2</text><text class="tk" x="438" y="803">9.1</text><text class="tk" x="438" y="821.3">9.0</text><text class="tk" x="438" y="840">8.9</text>
<path class="wk" d="M463.5,776V782.3M463.5,813.3V818.3M498,792.3V801.7M498,819V830"/>
<path class="cp" d="M457.5,776h12M457.5,818.3h12M492,792.3h12M492,830h12"/>
<rect class="bx" x="450" y="782.3" width="27" height="31"/><rect class="bx" x="484.5" y="801.7" width="27" height="17.3"/>
<path class="md" d="M450,802.7h27M484.5,812.3h27"/>
<circle cx="464.5" cy="776"/><circle cx="463.5" cy="781.7"/><circle cx="462.5" cy="782.7"/><circle cx="464" cy="796.7"/><circle cx="463" cy="807.7"/><circle cx="464" cy="810"/><circle cx="463" cy="814.3"/><circle cx="463.5" cy="818.3"/>
<circle cx="498.5" cy="801.7"/><circle cx="497" cy="802.3"/><circle cx="498.5" cy="810"/><circle cx="497.5" cy="812.3"/><circle cx="498" cy="815"/><circle cx="497" cy="820.7"/><circle cx="498.5" cy="824.3"/><circle cx="498" cy="830"/>
<rect class="fr" x="442" y="755" width="77" height="97"/>
<text class="xl" transform="translate(468,857) rotate(-90)">control</text><text class="xl" transform="translate(503,857) rotate(-90)">Salt Stressed</text>
</g>
</g>
</svg>
